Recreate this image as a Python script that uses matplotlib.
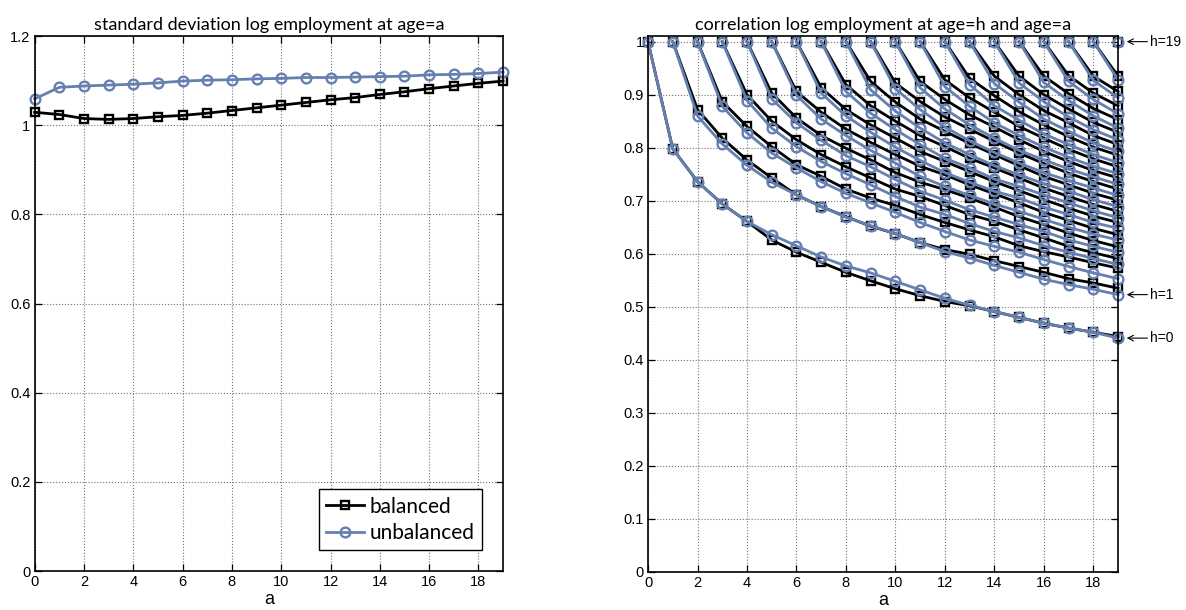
import matplotlib
matplotlib.use('Agg')
import matplotlib.pyplot as plt

# ages a = 0..19
ages = list(range(20))

# standard deviation of log employment at age a
sd_balanced = [1.029, 1.024, 1.015, 1.013, 1.015, 1.019, 1.022, 1.027, 1.033, 1.039,
               1.045, 1.051, 1.057, 1.062, 1.069, 1.075, 1.082, 1.088, 1.094, 1.099]
sd_unbalanced = [1.059, 1.085, 1.088, 1.090, 1.092, 1.095, 1.099, 1.101, 1.102, 1.104,
                 1.105, 1.107, 1.107, 1.108, 1.109, 1.110, 1.113, 1.114, 1.116, 1.119]

# correlation of log employment at age h and age a, one row per h (a = h..19)
corr_balanced = [
    [1.0, 0.798, 0.736, 0.694, 0.661, 0.626, 0.603, 0.584, 0.565, 0.549, 0.534, 0.521, 0.510, 0.502, 0.491, 0.480, 0.469, 0.460, 0.452, 0.444],
    [1.0, 0.872, 0.818, 0.777, 0.743, 0.711, 0.689, 0.670, 0.652, 0.638, 0.621, 0.608, 0.599, 0.587, 0.576, 0.565, 0.553, 0.545, 0.535],
    [1.0, 0.887, 0.840, 0.802, 0.768, 0.746, 0.722, 0.705, 0.691, 0.674, 0.659, 0.645, 0.632, 0.615, 0.604, 0.594, 0.583, 0.573],
    [1.0, 0.900, 0.850, 0.815, 0.787, 0.764, 0.743, 0.722, 0.708, 0.691, 0.674, 0.661, 0.645, 0.630, 0.614, 0.602, 0.591],
    [1.0, 0.903, 0.856, 0.823, 0.799, 0.777, 0.753, 0.735, 0.721, 0.705, 0.688, 0.670, 0.655, 0.639, 0.625, 0.613],
    [1.0, 0.906, 0.867, 0.835, 0.810, 0.787, 0.765, 0.749, 0.730, 0.713, 0.696, 0.678, 0.663, 0.648, 0.636],
    [1.0, 0.913, 0.872, 0.843, 0.818, 0.793, 0.774, 0.755, 0.736, 0.719, 0.702, 0.686, 0.671, 0.659],
    [1.0, 0.919, 0.879, 0.850, 0.823, 0.802, 0.780, 0.762, 0.743, 0.724, 0.708, 0.693, 0.680],
    [1.0, 0.925, 0.886, 0.854, 0.831, 0.808, 0.787, 0.766, 0.746, 0.730, 0.714, 0.701],
    [1.0, 0.922, 0.887, 0.858, 0.835, 0.812, 0.790, 0.770, 0.752, 0.736, 0.722],
    [1.0, 0.925, 0.891, 0.862, 0.839, 0.815, 0.793, 0.774, 0.757, 0.743],
    [1.0, 0.928, 0.894, 0.867, 0.840, 0.818, 0.797, 0.779, 0.764],
    [1.0, 0.931, 0.898, 0.868, 0.843, 0.821, 0.801, 0.786],
    [1.0, 0.935, 0.900, 0.870, 0.847, 0.823, 0.806],
    [1.0, 0.935, 0.900, 0.873, 0.848, 0.829],
    [1.0, 0.935, 0.902, 0.874, 0.853],
    [1.0, 0.936, 0.903, 0.879],
    [1.0, 0.935, 0.906],
    [1.0, 0.935],
    [1.0],
]
corr_unbalanced = [
    [1.0, 0.798, 0.736, 0.694, 0.661, 0.636, 0.615, 0.594, 0.577, 0.564, 0.548, 0.532, 0.516, 0.503, 0.491, 0.480, 0.469, 0.460, 0.452, 0.441],
    [1.0, 0.860, 0.807, 0.767, 0.735, 0.711, 0.689, 0.669, 0.653, 0.638, 0.621, 0.604, 0.592, 0.578, 0.565, 0.552, 0.542, 0.533, 0.523],
    [1.0, 0.878, 0.828, 0.790, 0.762, 0.736, 0.714, 0.696, 0.678, 0.659, 0.642, 0.626, 0.614, 0.603, 0.589, 0.576, 0.564, 0.553],
    [1.0, 0.889, 0.837, 0.802, 0.774, 0.751, 0.730, 0.708, 0.688, 0.674, 0.657, 0.642, 0.630, 0.615, 0.603, 0.591, 0.580],
    [1.0, 0.892, 0.847, 0.814, 0.785, 0.764, 0.740, 0.718, 0.701, 0.683, 0.669, 0.655, 0.642, 0.626, 0.614, 0.603],
    [1.0, 0.899, 0.854, 0.823, 0.795, 0.771, 0.746, 0.727, 0.710, 0.694, 0.680, 0.665, 0.650, 0.637, 0.626],
    [1.0, 0.903, 0.860, 0.829, 0.801, 0.776, 0.753, 0.735, 0.718, 0.705, 0.688, 0.674, 0.659, 0.648],
    [1.0, 0.906, 0.865, 0.834, 0.806, 0.780, 0.762, 0.741, 0.727, 0.711, 0.696, 0.681, 0.668],
    [1.0, 0.909, 0.869, 0.837, 0.809, 0.787, 0.766, 0.749, 0.732, 0.718, 0.702, 0.689],
    [1.0, 0.911, 0.872, 0.839, 0.813, 0.791, 0.771, 0.753, 0.738, 0.724, 0.710],
    [1.0, 0.913, 0.873, 0.843, 0.818, 0.795, 0.777, 0.760, 0.745, 0.731],
    [1.0, 0.915, 0.878, 0.847, 0.823, 0.801, 0.782, 0.765, 0.751],
    [1.0, 0.919, 0.879, 0.852, 0.826, 0.806, 0.787, 0.772],
    [1.0, 0.921, 0.886, 0.854, 0.831, 0.809, 0.793],
    [1.0, 0.922, 0.887, 0.858, 0.834, 0.815],
    [1.0, 0.923, 0.889, 0.860, 0.837],
    [1.0, 0.925, 0.891, 0.864],
    [1.0, 0.927, 0.894],
    [1.0, 0.928],
    [1.0],
]

# labels pointing at the end of selected curves
label_h = [19, 1, 0]

BLACK = 'black'
BLUE = '#6580b0'
TITLE_FONT = ['Lato', 'DejaVu Sans']
TICK_FONT = ['Liberation Sans', 'DejaVu Sans']

bal_style = dict(color=BLACK, lw=2.0, marker='s', ms=6, mfc='none', mec=BLACK, mew=1.7)
unb_style = dict(color=BLUE, lw=2.0, marker='o', ms=7, mfc='none', mec=BLUE, mew=1.7)


def style_axes(ax, ymax, yticks, ylabels):
    ax.set_xlim(0, 19)
    ax.set_ylim(0, ymax)
    ax.set_xticks(range(0, 19, 2))
    ax.set_yticks(yticks)
    ax.set_yticklabels(ylabels)
    ax.grid(True, linestyle=':', color='0.45', linewidth=0.8)
    ax.set_axisbelow(True)
    ax.tick_params(direction='in', top=True, right=True, length=5, width=0.9,
                   labelsize=10.5, pad=3)
    for lab in ax.get_xticklabels() + ax.get_yticklabels():
        lab.set_family(TICK_FONT)
    for s in ax.spines.values():
        s.set_linewidth(1.2)
    ax.set_xlabel('a', family=TICK_FONT, fontsize=13, labelpad=1)


fig = plt.figure(figsize=(11.86, 6.10), dpi=100)

# left: standard deviation
ax1 = fig.add_axes([0.0292, 0.0639, 0.395, 0.877])
ax1.plot(ages, sd_balanced, label='balanced', **bal_style)
ax1.plot(ages, sd_unbalanced, label='unbalanced', **unb_style)
style_axes(ax1, 1.2, [0, 0.2, 0.4, 0.6, 0.8, 1.0, 1.2],
           ['0', '0.2', '0.4', '0.6', '0.8', '1', '1.2'])
for ln in ax1.lines:
    ln.set_clip_on(False)
ax1.set_title('standard deviation log employment at age=a', family=TITLE_FONT,
              fontsize=13, pad=4)
leg = ax1.legend(loc='lower right', prop={'family': TITLE_FONT, 'size': 15},
                 fancybox=False, edgecolor='black', framealpha=1,
                 handlelength=1.8, handletextpad=0.3, borderaxespad=1.0,
                 labelspacing=0.3, borderpad=0.35)
leg.get_frame().set_linewidth(1.0)

# right: correlations
ax2 = fig.add_axes([0.5464, 0.0623, 0.3963, 0.879])
for h in range(len(corr_balanced)):
    xs = ages[h:]
    ax2.plot(xs, corr_balanced[h], clip_on=False, **bal_style)
    ax2.plot(xs, corr_unbalanced[h], clip_on=False, **unb_style)
style_axes(ax2, 1.011, [i / 10 for i in range(11)],
           ['0'] + ['0.%d' % i for i in range(1, 10)] + ['1'])
ax2.set_title('correlation log employment at age=h and age=a', family=TITLE_FONT,
              fontsize=13, pad=4)

for h in label_h:
    yv = corr_unbalanced[h][-1]
    ax2.annotate('h=%d' % h, xy=(19.35, yv), xytext=(20.3, yv),
                 textcoords='data', xycoords='data', annotation_clip=False,
                 va='center', ha='left', fontsize=10, family=TICK_FONT,
                 arrowprops=dict(arrowstyle='->', color='black', lw=0.8,
                                 shrinkA=0, shrinkB=0))

fig.savefig('out.png', dpi=100)
